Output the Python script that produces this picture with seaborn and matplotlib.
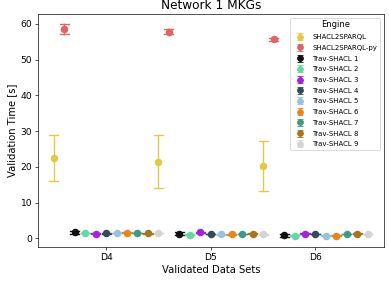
import numpy as np
import pandas as pd
import seaborn as sns
import matplotlib.pyplot as plt

# values (centre, lower and upper end of the error bar)
datasets = ["D4", "D5", "D6"]
engines = ["SHACL2SPARQL", "SHACL2SPARQL-py"] + [f"Trav-SHACL {i}" for i in range(1, 10)]
colors = ["#e2c93f", "#e06464", "#111111", "#62d8a2", "#a61fe4", "#2f4b5c",
          "#93c3de", "#e8861c", "#3f9a85", "#a8741d", "#d4d4d4"]

s2s_mid = [22.5, 21.4, 20.2]
s2s_lo = [16.0, 14.0, 13.2]
s2s_hi = [29.0, 29.0, 27.2]

s2spy_mid = [58.4, 57.8, 55.6]
s2spy_lo = [57.0, 57.2, 55.3]
s2spy_hi = [59.8, 58.4, 55.9]

trav_mid = [
    [1.67, 1.30, 0.80],
    [1.48, 1.02, 0.70],
    [1.30, 1.67, 1.35],
    [1.39, 1.20, 1.20],
    [1.48, 1.10, 0.75],
    [1.58, 1.10, 0.74],
    [1.48, 1.20, 1.20],
    [1.39, 1.30, 1.30],
    [1.48, 1.10, 1.20],
]
trav_err = [0.35, 0.12, 0.12, 0.12, 0.12, 0.12, 0.12, 0.12, 0.12]

# long table: three rows per point -> median is the centre, min/max are the bar ends
rows = []
for k, d in enumerate(datasets):
    for v in (s2s_lo[k], s2s_mid[k], s2s_hi[k]):
        rows.append((d, engines[0], v))
    for v in (s2spy_lo[k], s2spy_mid[k], s2spy_hi[k]):
        rows.append((d, engines[1], v))
    for j in range(9):
        m = trav_mid[j][k]
        for v in (m - trav_err[j], m, m + trav_err[j]):
            rows.append((d, engines[2 + j], v))
df = pd.DataFrame(rows, columns=["Dataset", "Engine", "Time"])

fig, ax = plt.subplots(figsize=(389 / 60, 282 / 60), dpi=60)
fig.subplots_adjust(left=0.0977, right=0.986, top=0.950, bottom=0.125)

sns.pointplot(data=df, x="Dataset", y="Time", hue="Engine", order=datasets,
              hue_order=engines, palette=colors, estimator="median",
              errorbar=("pi", 100), dodge=1.0, linestyle="none", capsize=0.087,
              markersize=7, err_kws={"linewidth": 1.6}, legend=False, ax=ax)

# legend with errorbar-style glyphs like the original
for name, c in zip(engines, colors):
    ax.errorbar([np.nan], [np.nan], yerr=[1.0], fmt="o", color=c, capsize=4,
                markersize=7, elinewidth=1.6, label=name)
ax.legend(title="Engine", fontsize=8.33, title_fontsize=10, loc="upper right",
          labelspacing=0.68)

ax.set_xlim(-0.65, 2.65)
ax.set_ylim(-2.35, 62.7)
ax.set_title("Network 1 MKGs", fontsize=14.5)
ax.set_xlabel("Validated Data Sets", fontsize=12)
ax.set_ylabel("Validation Time [s]", fontsize=12)
ax.tick_params(labelsize=11)

fig.savefig("out.png", dpi=60)
